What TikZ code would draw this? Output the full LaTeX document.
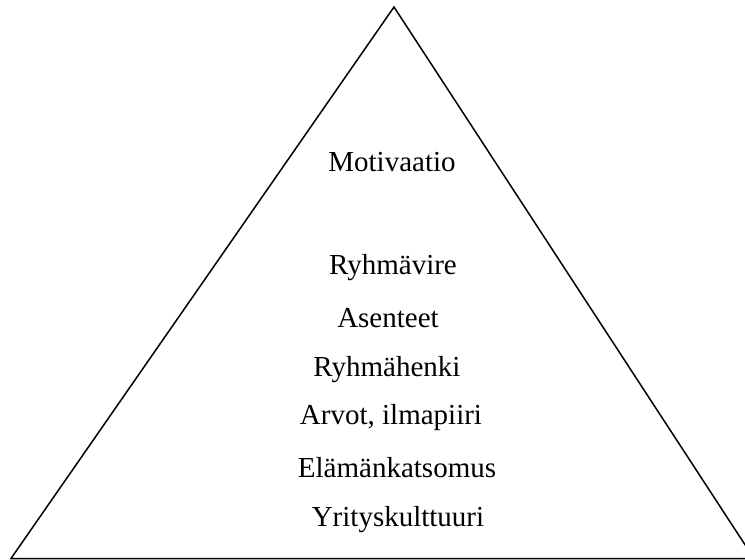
\documentclass[tikz,border=0pt]{standalone}
\usepackage{fontspec}
\setmainfont{Liberation Serif}
\begin{document}
\begin{tikzpicture}[x=1pt,y=-1pt]
                \tikzstyle{every node}+=[inner sep=0pt]
                \tikzstyle{level}=[font=\fontsize{29}{34}\selectfont, anchor=center]
                \useasboundingbox (0,0) rectangle (745,560);
                \clip (0,0) rectangle (745,560);
                % pyramid
                \draw [black, line width=1.5pt] (394,7) -- (754,558.5) -- (11,558.5) -- cycle;
                \node [level] (motivaatio) at (392,162) {Motivaatio};
                \node [level] (ryhmavire) at (393,268) {Ryhmävire};
                \node [level] (asenteet) at (388,318) {Asenteet};
                \node [level] (ryhmahenki) at (387,370) {Ryhmähenki};
                \node [level] (arvot) at (391,418) {Arvot, ilmapiiri};
                \node [level] (elamankatsomus) at (397,468) {Elämänkatsomus};
                \node [level] (yrityskulttuuri) at (398,520) {Yrityskulttuuri};
            \end{tikzpicture}
\end{document}
